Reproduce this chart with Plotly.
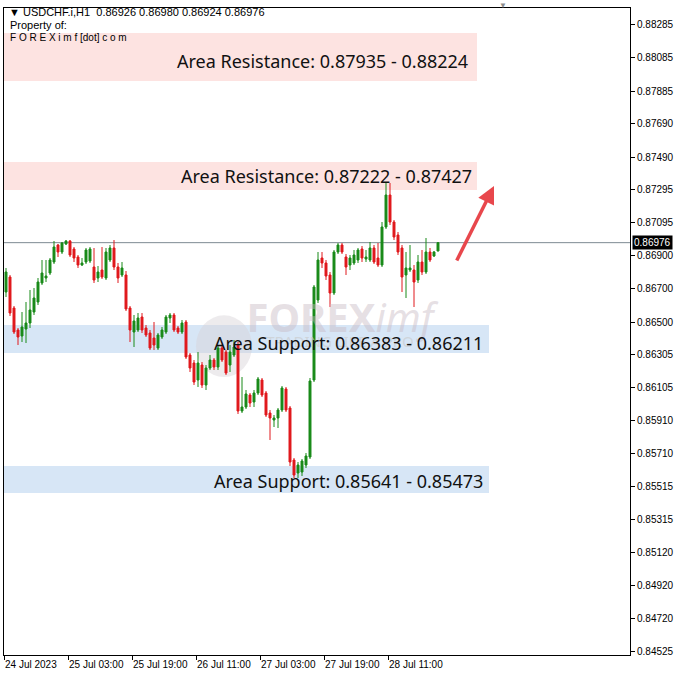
import plotly.graph_objects as go

# ---------------- data (USDCHF H1) ----------------
bar_index = list(range(109))

opens = [0.86680,0.86770,0.86584,0.86452,0.86416,0.86458,0.86494,0.86560,0.86620,0.86734,
         0.86764,0.86794,0.86860,0.86962,0.86920,0.86968,0.86986,0.86938,0.86890,0.86842,
         0.86860,0.86866,0.86830,0.86764,0.86812,0.86764,0.86872,0.86944,0.86830,0.86782,
         0.86782,0.86584,0.86440,0.86452,0.86530,0.86464,0.86434,0.86404,0.86344,0.86410,
         0.86440,0.86524,0.86542,0.86464,0.86440,0.86500,0.86302,0.86254,0.86152,0.86242,
         0.86122,0.86224,0.86272,0.86230,0.86344,0.86320,0.86242,0.86302,0.86362,0.85966,
         0.85990,0.86062,0.86020,0.86074,0.86152,0.86074,0.85954,0.85912,0.85924,0.85972,
         0.86098,0.85984,0.85672,0.85594,0.85600,0.85642,0.85690,0.86152,0.86632,0.86884,
         0.86854,0.86782,0.86674,0.86920,0.86962,0.86890,0.86842,0.86854,0.86872,0.86938,
         0.86878,0.86872,0.86944,0.86884,0.86842,0.87070,0.87262,0.87100,0.87022,0.86944,
         0.86782,0.86812,0.86812,0.86752,0.86860,0.86800,0.86920,0.86896,0.86926]

closes = [0.86800,0.86554,0.86440,0.86410,0.86470,0.86494,0.86572,0.86644,0.86740,0.86794,
          0.86776,0.86872,0.86950,0.86920,0.86974,0.86986,0.86902,0.86884,0.86842,0.86854,
          0.86932,0.86938,0.86752,0.86800,0.86770,0.86920,0.86944,0.86830,0.86764,0.86824,
          0.86578,0.86452,0.86506,0.86524,0.86452,0.86422,0.86344,0.86362,0.86422,0.86452,
          0.86530,0.86542,0.86452,0.86440,0.86494,0.86290,0.86224,0.86140,0.86254,0.86122,
          0.86224,0.86272,0.86230,0.86344,0.86272,0.86194,0.86320,0.86350,0.85966,0.85990,
          0.86068,0.86014,0.86074,0.86158,0.86062,0.85942,0.85924,0.85924,0.85972,0.86104,
          0.85972,0.85660,0.85582,0.85642,0.85666,0.85696,0.86146,0.86710,0.86872,0.86854,
          0.86776,0.86674,0.86920,0.86962,0.86920,0.86830,0.86884,0.86902,0.86932,0.86884,
          0.86890,0.86944,0.86860,0.86842,0.87070,0.87262,0.87100,0.87010,0.86920,0.86770,
          0.86824,0.86824,0.86740,0.86860,0.86800,0.86920,0.86872,0.86920,0.86976]

highs = [0.86824,0.86782,0.86596,0.86464,0.86560,0.86620,0.86692,0.86704,0.86764,0.86872,
         0.86872,0.86884,0.86986,0.86968,0.86980,0.86992,0.86992,0.86950,0.86902,0.86884,
         0.86944,0.86950,0.86944,0.86836,0.86950,0.86944,0.86962,0.86992,0.86854,0.86860,
         0.86806,0.86596,0.86542,0.86554,0.86554,0.86482,0.86452,0.86500,0.86434,0.86470,
         0.86542,0.86554,0.86554,0.86476,0.86512,0.86512,0.86314,0.86272,0.86320,0.86260,
         0.86242,0.86302,0.86284,0.86362,0.86356,0.86332,0.86362,0.86392,0.86380,0.86170,
         0.86092,0.86074,0.86092,0.86170,0.86164,0.86086,0.85972,0.85942,0.85984,0.86116,
         0.86110,0.85996,0.85684,0.85660,0.85678,0.85714,0.86164,0.86722,0.86920,0.86920,
         0.86872,0.86800,0.86932,0.86974,0.86974,0.86908,0.86902,0.86932,0.86944,0.86956,
         0.86932,0.86980,0.86962,0.86974,0.87100,0.87340,0.87334,0.87112,0.87040,0.86962,
         0.86920,0.86962,0.86842,0.86902,0.86932,0.87004,0.86944,0.86926,0.86980]

lows = [0.86650,0.86536,0.86428,0.86362,0.86380,0.86374,0.86464,0.86542,0.86602,0.86722,
        0.86740,0.86782,0.86848,0.86890,0.86908,0.86962,0.86890,0.86860,0.86824,0.86836,
        0.86848,0.86854,0.86734,0.86740,0.86758,0.86752,0.86860,0.86812,0.86734,0.86770,
        0.86566,0.86380,0.86350,0.86440,0.86434,0.86410,0.86332,0.86332,0.86332,0.86398,
        0.86428,0.86494,0.86440,0.86428,0.86428,0.86278,0.86200,0.86122,0.86110,0.86104,
        0.86092,0.86212,0.86212,0.86212,0.86260,0.86182,0.86200,0.86290,0.85948,0.85954,
        0.85978,0.85990,0.85990,0.86062,0.86050,0.85930,0.85792,0.85870,0.85864,0.85960,
        0.85960,0.85636,0.85564,0.85564,0.85576,0.85624,0.85678,0.86140,0.86614,0.86824,
        0.86752,0.86590,0.86662,0.86908,0.86908,0.86782,0.86812,0.86842,0.86854,0.86860,
        0.86860,0.86860,0.86848,0.86830,0.86830,0.87058,0.87082,0.86992,0.86902,0.86680,
        0.86644,0.86800,0.86590,0.86734,0.86782,0.86788,0.86860,0.86890,0.86924]

time_tick_bars = [0, 16, 32, 48, 64, 80, 96]
time_tick_labels = ["24 Jul 2023", "25 Jul 03:00", "25 Jul 19:00", "26 Jul 11:00",
                    "27 Jul 03:00", "27 Jul 19:00", "28 Jul 11:00"]

price_ticks = [0.88285, 0.88085, 0.87885, 0.87690, 0.87490, 0.87295, 0.87095, 0.86900,
               0.86700, 0.86500, 0.86305, 0.86105, 0.85910, 0.85710, 0.85515, 0.85315,
               0.85120, 0.84920, 0.84720, 0.84525]

current_price = 0.86976
header_ohlc = "0.86926 0.86980 0.86924 0.86976"

# zones
zone_labels = ["Area Resistance: 0.87935 - 0.88224",
               "Area Resistance: 0.87222 - 0.87427",
               "Area Support: 0.86383 - 0.86211",
               "Area Support: 0.85641 - 0.85473"]
zone_bottoms = [0.87946, 0.87292, 0.86314, 0.85474]
zone_tops = [0.88234, 0.87460, 0.86482, 0.85636]
zone_ends = [117.75, 117.75, 120.75, 120.75]
zone_kinds = ["res", "res", "sup", "sup"]
label_bars = [116.0, 117.0, 119.8, 119.8]
label_prices = [0.88066, 0.87376, 0.86374, 0.85546]

arrow_tail = (112.5, 0.86860)
arrow_head = (122.0, 0.87316)

# ---------------- figure ----------------
GREEN = "#198a19"
RED = "#e0181c"
FONT = "Liberation Sans"

fig = go.Figure()

# watermark (drawn first so candles sit on top)
fig.add_trace(go.Scatter(
    x=[83.5], y=[0.86500], mode="text",
    text=["<b>FOREX</b><i>imf</i>"],
    textfont=dict(family="Noto Sans", size=40, color="rgba(200,185,195,0.45)"),
    hoverinfo="skip", showlegend=False))
fig.add_trace(go.Scatter(
    x=[83.5], y=[0.86375], mode="text",
    text=["TRADING LIKE A PRO"],
    textfont=dict(family="Noto Sans", size=15, color="rgba(200,200,200,0.6)"),
    hoverinfo="skip", showlegend=False))

fig.add_trace(go.Candlestick(
    x=bar_index, open=opens, high=highs, low=lows, close=closes,
    increasing=dict(line=dict(color=GREEN, width=1), fillcolor=GREEN),
    decreasing=dict(line=dict(color=RED, width=1), fillcolor=RED),
    whiskerwidth=0, showlegend=False, hoverinfo="skip"))

shapes = []
for b, t, e, k in zip(zone_bottoms, zone_tops, zone_ends, zone_kinds):
    shapes.append(dict(type="rect", xref="x", yref="y", x0=-0.5, x1=e, y0=b, y1=t,
                       fillcolor="#fde3e1" if k == "res" else "#d7e6f6",
                       line=dict(width=0), layer="below"))
# watermark logo circle
shapes.append(dict(type="circle", xref="x", yref="y", x0=47.5, x1=61.5,
                   y0=0.86170, y1=0.86540, fillcolor="rgba(215,210,215,0.45)",
                   line=dict(width=0), layer="below"))
# current price line
shapes.append(dict(type="line", xref="paper", yref="y", x0=0, x1=1,
                   y0=current_price, y1=current_price,
                   line=dict(color="#7d8a92", width=1), layer="below"))

annotations = []
for lab, xb, yp in zip(zone_labels, label_bars, label_prices):
    annotations.append(dict(x=xb, y=yp, xref="x", yref="y", text=lab, showarrow=False,
                            xanchor="right", yanchor="middle",
                            font=dict(family="Noto Sans", size=18, color="#111111")))
annotations.append(dict(x=arrow_head[0], y=arrow_head[1], ax=arrow_tail[0], ay=arrow_tail[1],
                        xref="x", yref="y", axref="x", ayref="y", text="", showarrow=True,
                        arrowhead=2, arrowsize=1.0, arrowwidth=3.5, arrowcolor="#e8474c"))
# header texts
annotations.append(dict(x=3 / 626, y=(655 - 12) / 647, xref="paper", yref="paper",
                        text="\u25bc USDCHF.i,H1  " + header_ohlc, showarrow=False,
                        xanchor="left", yanchor="middle",
                        font=dict(family=FONT, size=11, color="#000000")))
annotations.append(dict(x=4 / 626, y=(655 - 25) / 647, xref="paper", yref="paper",
                        text="Property of:", showarrow=False, xanchor="left", yanchor="middle",
                        font=dict(family=FONT, size=11, color="#000000")))
annotations.append(dict(x=4 / 626, y=(655 - 37) / 647, xref="paper", yref="paper",
                        text="F O R E X i m f [dot] c o m", showarrow=False,
                        xanchor="left", yanchor="middle",
                        font=dict(family=FONT, size=10, color="#000000")))
# current price tag on the axis
annotations.append(dict(x=1.0, y=current_price, xref="paper", yref="y",
                        text=f"{current_price:.5f}", showarrow=False, xanchor="left",
                        yanchor="middle", xshift=2, bgcolor="#000000", borderpad=1,
                        font=dict(family=FONT, size=10, color="#ffffff")))
# chart shift marker
annotations.append(dict(x=(503 - 4) / 626, y=1.0, xref="paper", yref="paper",
                        text="\u25bc", showarrow=False, xanchor="center", yanchor="bottom",
                        yshift=-4, font=dict(family=FONT, size=8, color="#8c8c8c")))

fig.update_layout(
    width=678, height=678,
    margin=dict(l=4, r=48, t=8, b=23, autoexpand=False),
    paper_bgcolor="#ffffff", plot_bgcolor="#ffffff",
    showlegend=False, shapes=shapes, annotations=annotations,
    xaxis=dict(range=[-0.5, 156.0], rangeslider=dict(visible=False), automargin=False,
               tickvals=[b - 0.5 for b in time_tick_bars], ticktext=time_tick_labels,
               ticks="outside", ticklen=4, tickcolor="#000000",
               ticklabelposition="outside right",
               showgrid=False, zeroline=False, showline=True, linecolor="#000000",
               linewidth=1, mirror=True,
               tickfont=dict(family=FONT, size=10, color="#000000")),
    yaxis=dict(range=[0.84502, 0.88384], side="right", tickvals=price_ticks, automargin=False,
               ticktext=[f"{v:.5f}" for v in price_ticks],
               ticks="outside", ticklen=4, tickcolor="#000000",
               showgrid=False, zeroline=False, showline=True, linecolor="#000000",
               linewidth=1, mirror=True,
               tickfont=dict(family=FONT, size=10, color="#000000")),
)

fig.write_html("out.html", config={"displayModeBar": False},
               post_script="document.body.style.margin='0px';document.body.style.overflow='hidden';")
